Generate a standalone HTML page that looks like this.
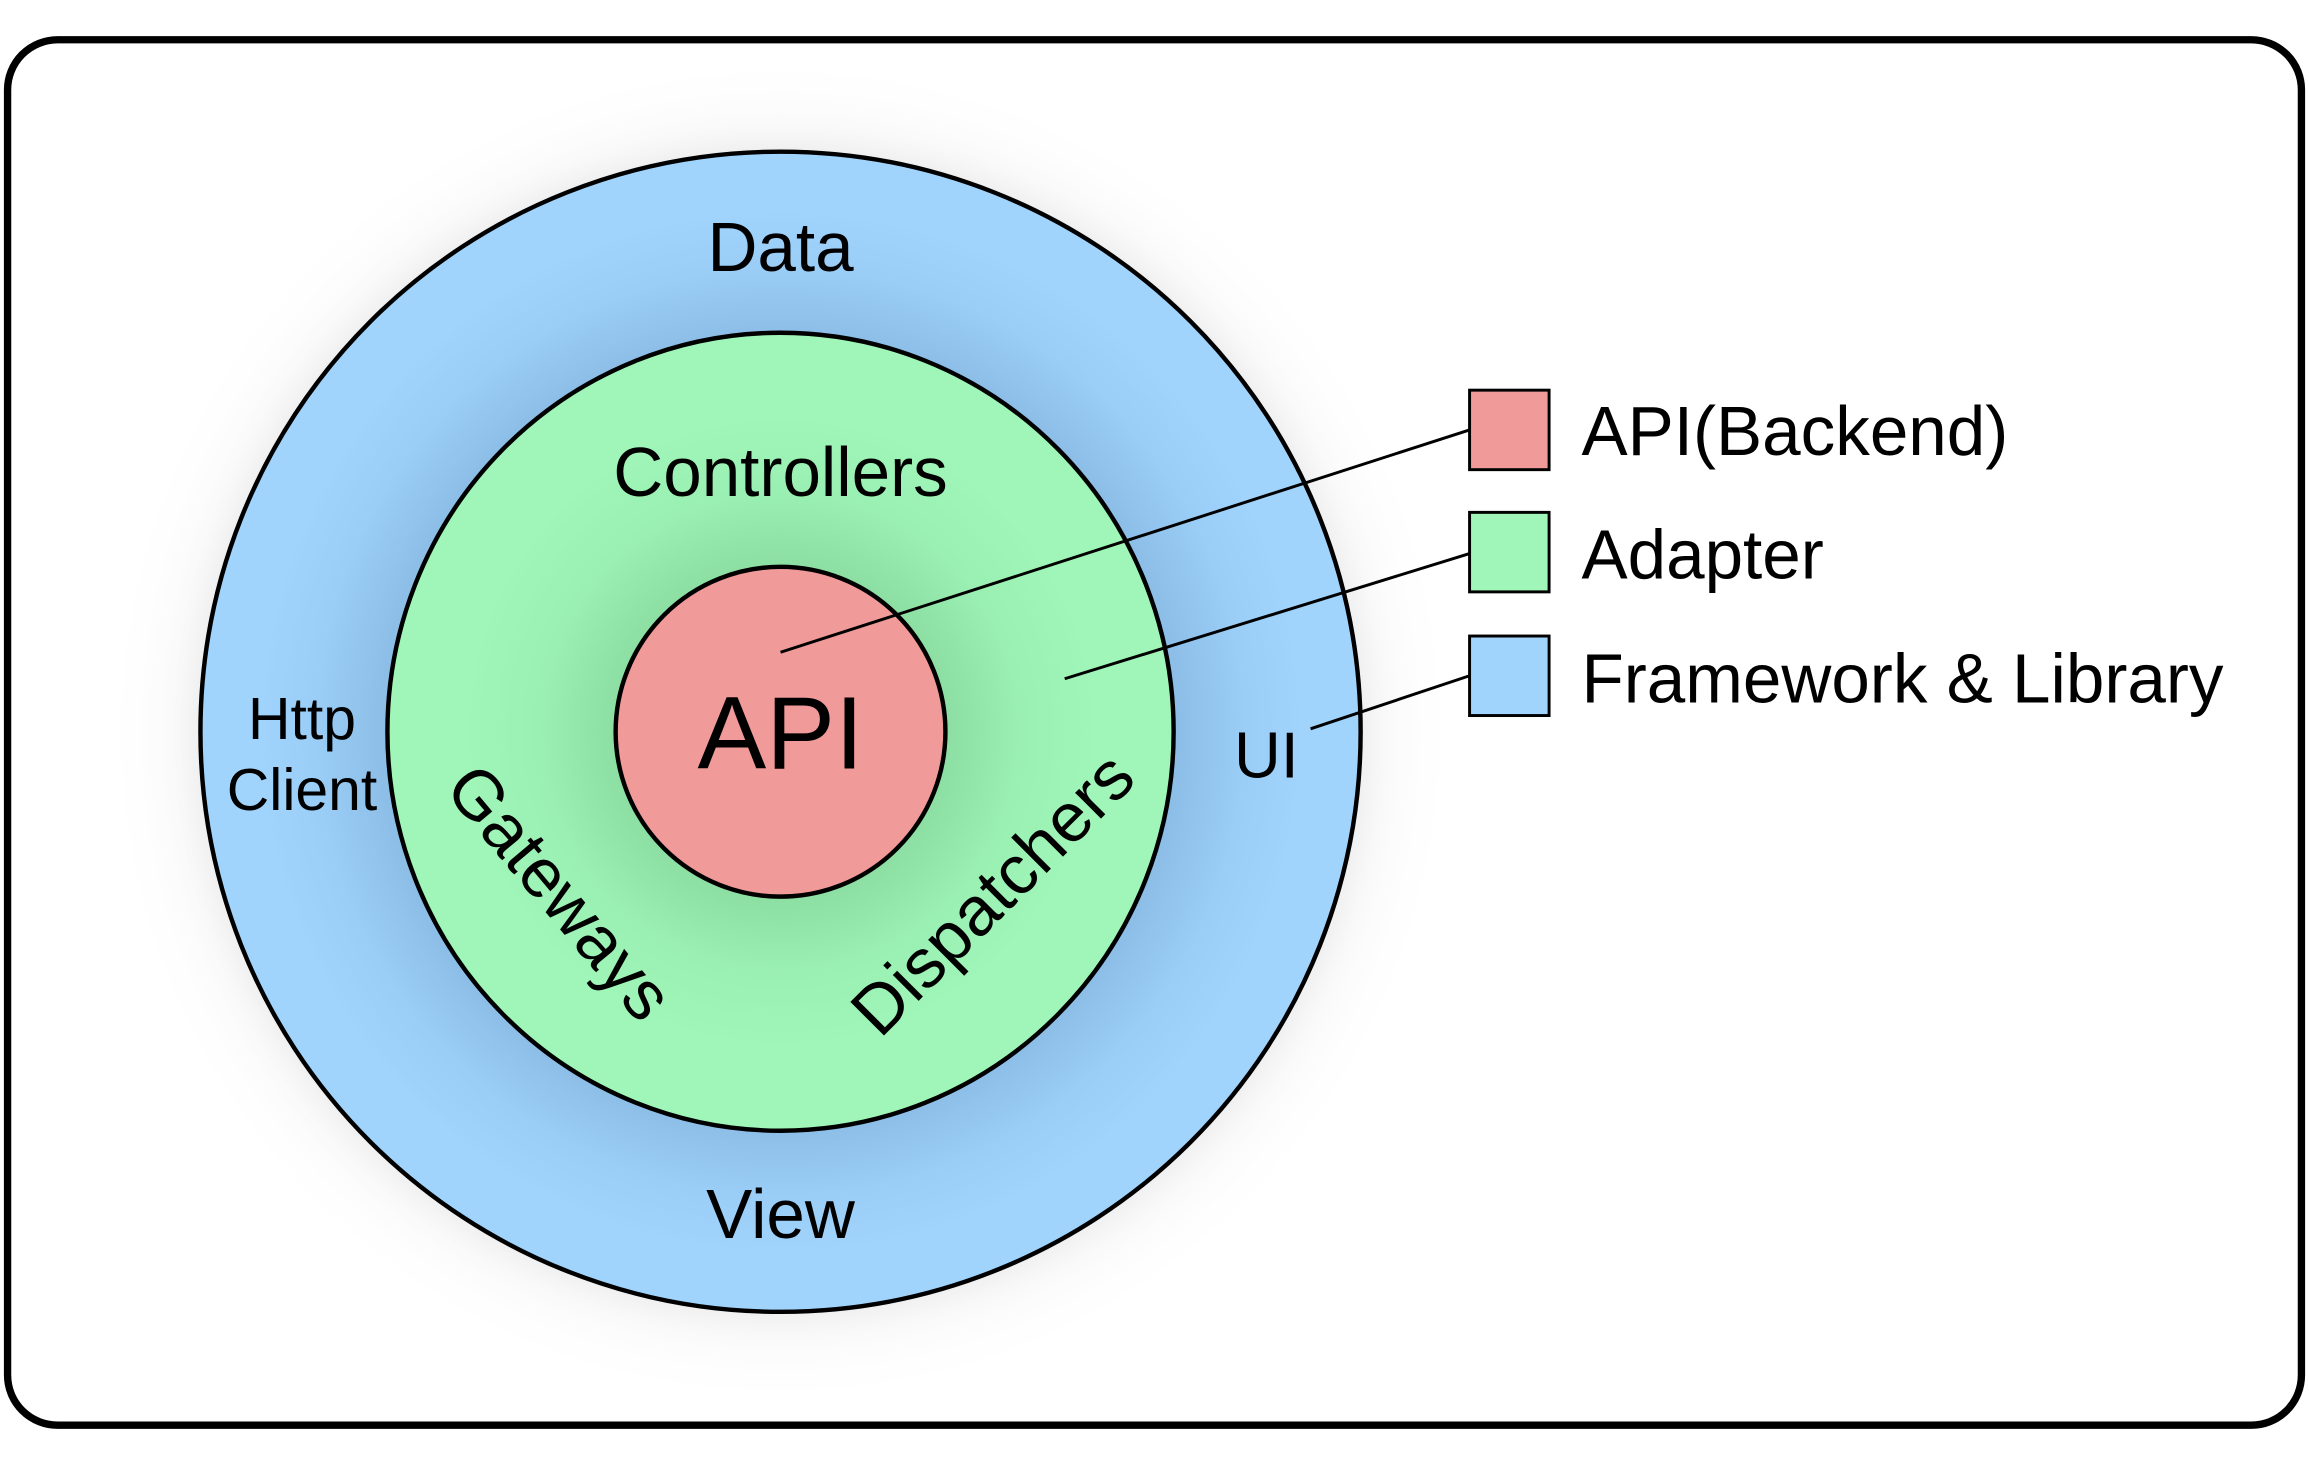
<!DOCTYPE html>
<html><head><meta charset="utf-8"><style>
html,body{margin:0;padding:0;background:#fff;}
svg{display:block;}
text{font-family:"Liberation Sans",Arial,sans-serif;fill:#000;}
</style></head><body>
<svg width="2309" height="1462" viewBox="0 0 1568 993" xmlns="http://www.w3.org/2000/svg">
<defs>
<radialGradient id="outerglow" cx="530" cy="497" r="460" gradientUnits="userSpaceOnUse">
<stop offset="0.83" stop-color="#999" stop-opacity="0.25"/>
<stop offset="0.9" stop-color="#ccc" stop-opacity="0.1"/>
<stop offset="1" stop-color="#fff" stop-opacity="0"/>
</radialGradient>
<radialGradient id="blue" cx="530" cy="497" r="395" gradientUnits="userSpaceOnUse">
<stop offset="0.68" stop-color="#8cbde6"/>
<stop offset="0.8" stop-color="#9acef7"/>
<stop offset="0.9" stop-color="#a0d4fd"/>
<stop offset="1" stop-color="#a0d4fd"/>
</radialGradient>
<radialGradient id="green" cx="530" cy="497" r="271" gradientUnits="userSpaceOnUse">
<stop offset="0.41" stop-color="#8cdea2"/>
<stop offset="0.6" stop-color="#9aefb2"/>
<stop offset="0.8" stop-color="#a0f6b8"/>
<stop offset="1" stop-color="#a0f6b8"/>
</radialGradient>
</defs>
<rect x="5" y="27" width="1558" height="941" rx="34" fill="#fff" stroke="#000" stroke-width="5"/>
<circle cx="530" cy="497" r="460" fill="url(#outerglow)"/>
<circle cx="530" cy="497" r="394" fill="url(#blue)" stroke="#000" stroke-width="3"/>
<ellipse cx="530" cy="497" rx="267" ry="271" fill="url(#green)" stroke="#000" stroke-width="3"/>
<circle cx="530" cy="497" r="112" fill="#f09a99" stroke="#000" stroke-width="3"/>
<text x="530" y="184" font-size="47" text-anchor="middle">Data</text>
<text x="530" y="337" font-size="47" text-anchor="middle">Controllers</text>
<text x="530" y="522" font-size="70" text-anchor="middle">API</text>
<text x="205" y="502" font-size="40" text-anchor="middle">Http</text>
<text x="205" y="550" font-size="40" text-anchor="middle">Client</text>
<text x="860" y="528" font-size="44" text-anchor="middle">UI</text>
<text x="530" y="841" font-size="47" text-anchor="middle">View</text>
<text transform="translate(380,606) rotate(50)" font-size="47" text-anchor="middle" y="16">Gateways</text>
<text transform="translate(674,607) rotate(-45)" font-size="47" text-anchor="middle" y="16">Dispatchers</text>
<g stroke="#000" stroke-width="2">
<line x1="530" y1="443" x2="998" y2="292"/>
<line x1="723" y1="461" x2="998" y2="376"/>
<line x1="890" y1="495" x2="998" y2="459"/>
</g>
<rect x="998" y="265" width="54" height="54" fill="#f09a99" stroke="#000" stroke-width="2"/>
<rect x="998" y="348" width="54" height="54" fill="#a0f6b8" stroke="#000" stroke-width="2"/>
<rect x="998" y="432" width="54" height="54" fill="#a0d4fd" stroke="#000" stroke-width="2"/>
<text x="1074" y="309" font-size="47">API(Backend)</text>
<text x="1074" y="393" font-size="47">Adapter</text>
<text x="1074" y="477" font-size="47">Framework &amp; Library</text>
</svg>
</body></html>
